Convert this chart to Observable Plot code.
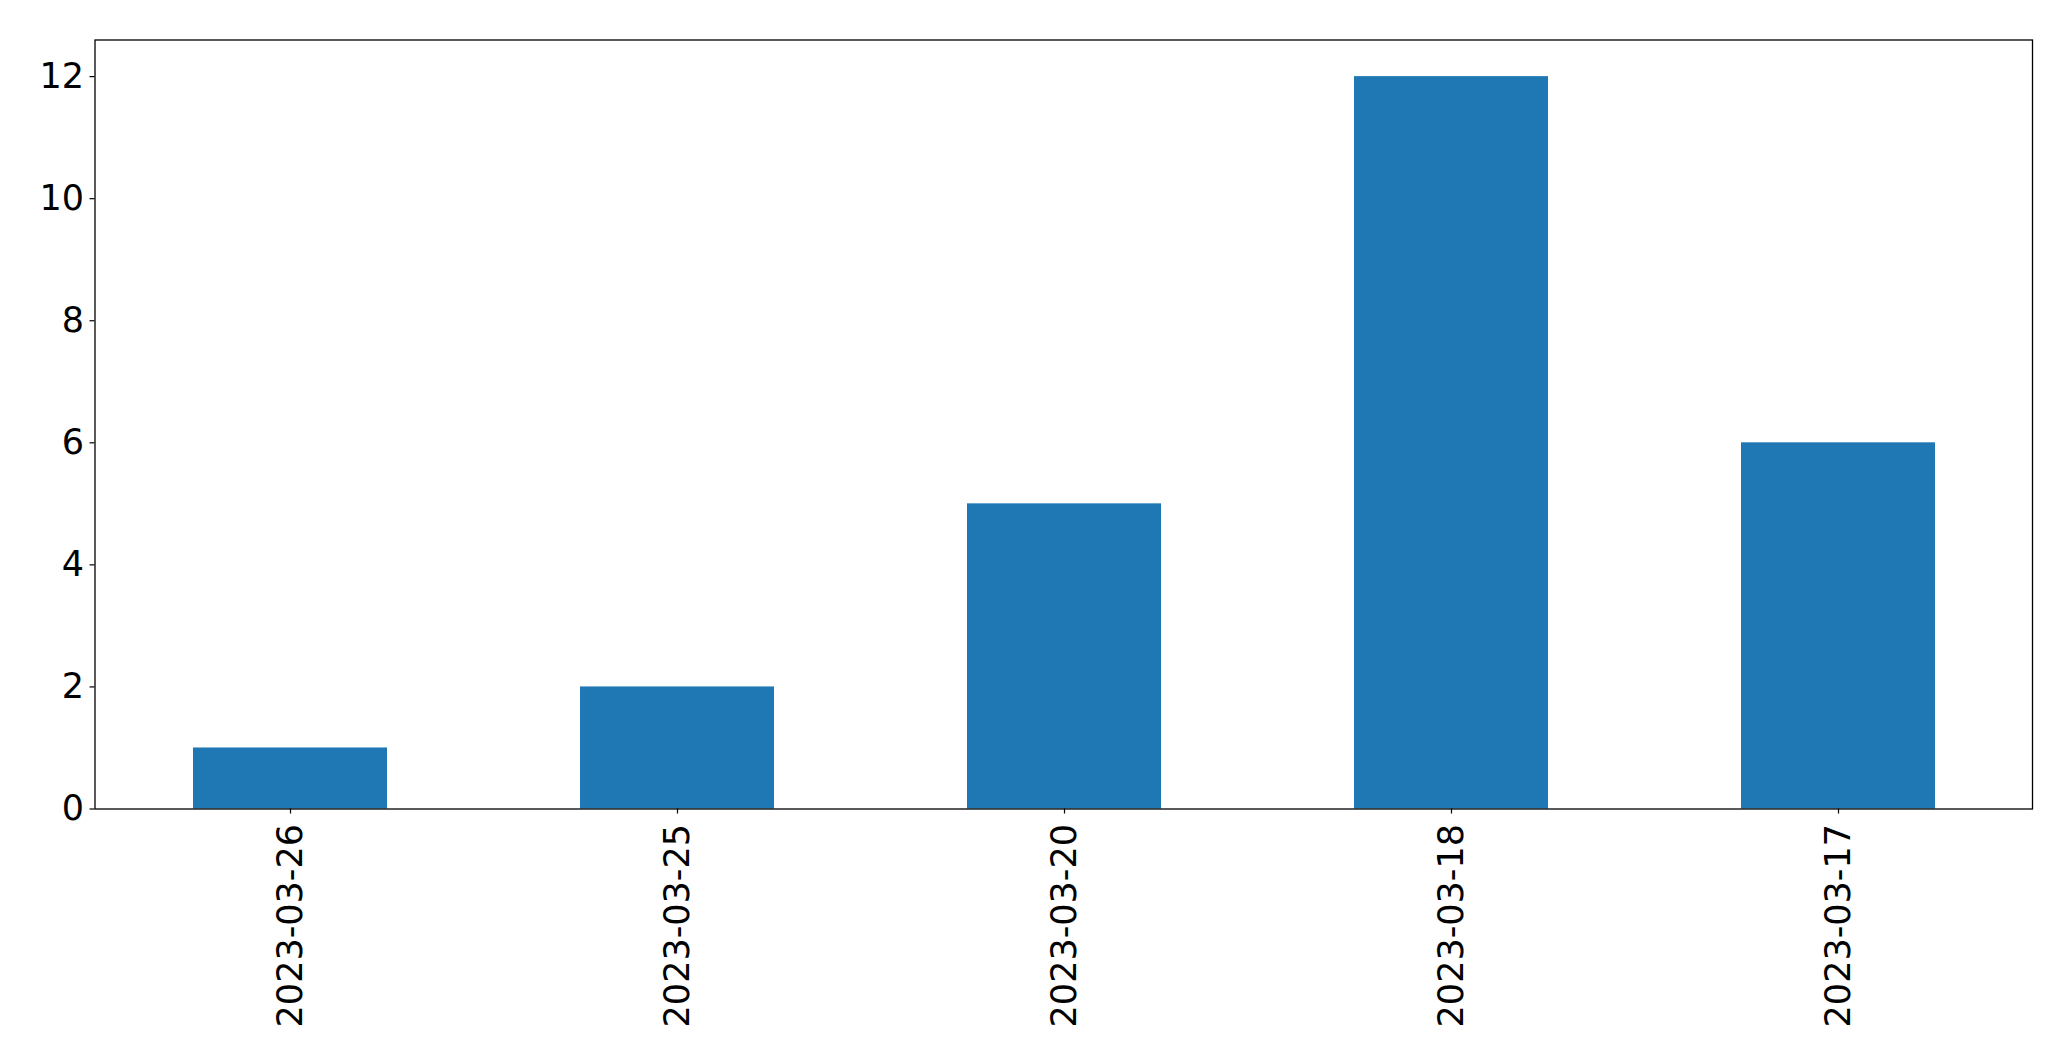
<!DOCTYPE html>
<html>
<head>
<meta charset="utf-8">
<script src="https://cdn.jsdelivr.net/npm/d3@7"></script>
<script src="https://cdn.jsdelivr.net/npm/@observablehq/plot@0.6"></script>
<style>
  html, body { margin: 0; padding: 0; background: #fff; }
  #chart svg { display: block; }
</style>
</head>
<body>
<div id="chart"></div>
<script>
const dates = ["2023-03-26", "2023-03-25", "2023-03-20", "2023-03-18", "2023-03-17"];
const counts = [1, 2, 5, 12, 6];
const yTicks = [0, 2, 4, 6, 8, 10, 12];

const data = dates.map((d, i) => ({date: d, count: counts[i]}));

const chart = Plot.plot({
  width: 2071,
  height: 1061,
  marginLeft: 94.5,
  marginRight: 39,
  marginTop: 39.5,
  marginBottom: 252.5,
  style: {fontFamily: "DejaVu Sans", fontSize: "35px", color: "#000", background: "#fff"},
  x: {type: "band", domain: dates, paddingInner: 0.5, paddingOuter: 0.25, label: null},
  y: {domain: [0, 12.6], label: null},
  marks: [
    Plot.barY(data, {x: "date", y: "count", fill: "#1f77b4"}),
    Plot.axisY({ticks: yTicks, tickSize: 5, tickPadding: 6, label: null, fontSize: 35, stroke: "#000", strokeWidth: 1.2}),
    Plot.axisX({tickSize: 5, tickPadding: 10, tickRotate: -90, label: null, fontSize: 35, stroke: "#000", strokeWidth: 1.2}),
    Plot.frame({stroke: "#000", strokeWidth: 1.3})
  ]
});
document.getElementById("chart").appendChild(chart);
</script>
</body>
</html>
